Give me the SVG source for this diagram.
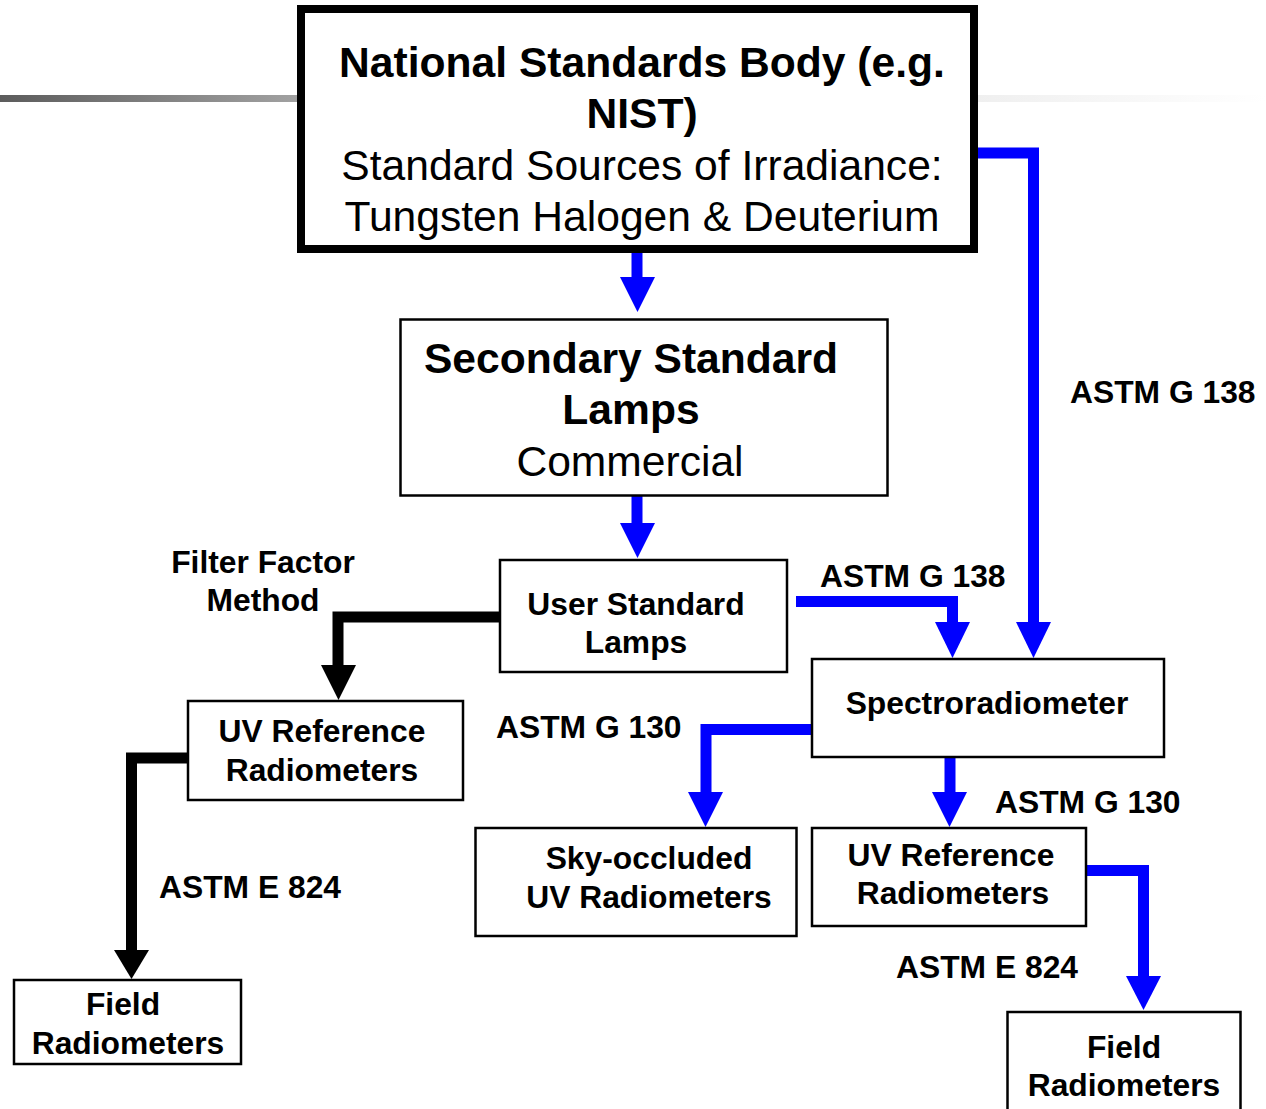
<svg xmlns="http://www.w3.org/2000/svg" width="1266" height="1109" viewBox="0 0 1266 1109">
<defs>
<linearGradient id="gl" x1="0" y1="0" x2="1" y2="0"><stop offset="0" stop-color="#5c5c5c"/><stop offset="1" stop-color="#a2a2a2"/></linearGradient>
<linearGradient id="gr" x1="0" y1="0" x2="1" y2="0"><stop offset="0" stop-color="#efefef"/><stop offset="1" stop-color="#ffffff"/></linearGradient>
<style>
.box{fill:#fff;stroke:#000;stroke-width:2.5}
.big{fill:#fff;stroke:#000;stroke-width:8}
.t{font-family:"Liberation Sans",Arial,sans-serif;fill:#000}
.b42{font-size:42.6px;font-weight:bold}
.r42{font-size:42.6px}
.b32{font-size:31.8px;font-weight:bold}
.mid{text-anchor:middle}
.bl{fill:none;stroke:#0000ff;stroke-width:11;stroke-linejoin:miter}
.bk{fill:none;stroke:#000;stroke-width:11;stroke-linejoin:miter}
.hb{fill:#0000ff}
.hk{fill:#000}
</style>
</defs>
<rect x="0" y="95" width="300" height="7" fill="url(#gl)"/>
<rect x="975" y="95" width="291" height="7" fill="url(#gr)"/>

<g id="connectors">
<polyline class="bl" points="637,250 637,278"/>
<polygon class="hb" points="620,277 655,277 637.5,312"/>
<polyline class="bl" points="637,495 637,524"/>
<polygon class="hb" points="620,523 655,523 637.5,558"/>
<polyline class="bl" points="974,153 1033.5,153 1033.5,624"/>
<polygon class="hb" points="1016,622 1051,622 1033.5,658"/>
<polyline class="bl" points="796,601.5 952.5,601.5 952.5,624"/>
<polygon class="hb" points="935,622 970,622 952.5,658"/>
<polyline class="bk" points="500,617 338,617 338,667"/>
<polygon class="hk" points="321,665 356,665 338.5,700"/>
<polyline class="bk" points="188,758 131.5,758 131.5,952"/>
<polygon class="hk" points="114,950 149,950 131.5,979"/>
<polyline class="bl" points="812,729.5 706,729.5 706,794"/>
<polygon class="hb" points="688,792 723,792 705.5,827"/>
<polyline class="bl" points="950,757 950,794"/>
<polygon class="hb" points="932,792 967,792 949.5,827"/>
<polyline class="bl" points="1086,870.5 1143.5,870.5 1143.5,978"/>
<polygon class="hb" points="1126,976 1161,976 1143.5,1010"/>
</g>

<g id="nist">
<rect class="big" x="301" y="9" width="673" height="240"/>
<text class="t b42 mid" x="642" y="77">National Standards Body (e.g.</text>
<text class="t b42 mid" x="642" y="128">NIST)</text>
<text class="t r42 mid" x="642" y="180">Standard Sources of Irradiance:</text>
<text class="t r42 mid" x="642" y="231">Tungsten Halogen &amp; Deuterium</text>
</g>

<g id="secondary">
<rect class="box" x="400.5" y="319.5" width="487" height="176"/>
<text class="t b42 mid" x="631" y="373">Secondary Standard</text>
<text class="t b42 mid" x="631" y="424">Lamps</text>
<text class="t r42 mid" x="630" y="476">Commercial</text>
</g>

<g id="user">
<rect class="box" x="500" y="560" width="287" height="112"/>
<text class="t b32 mid" x="636" y="615">User Standard</text>
<text class="t b32 mid" x="636" y="653">Lamps</text>
</g>

<g id="spectro">
<rect class="box" x="812" y="659" width="352" height="98"/>
<text class="t b32 mid" x="987" y="714">Spectroradiometer</text>
</g>

<g id="uvref-left">
<rect class="box" x="188" y="701" width="275" height="99"/>
<text class="t b32 mid" x="322" y="742">UV Reference</text>
<text class="t b32 mid" x="322" y="781">Radiometers</text>
</g>

<g id="sky">
<rect class="box" x="475.5" y="828" width="321" height="108"/>
<text class="t b32 mid" x="649" y="869">Sky-occluded</text>
<text class="t b32 mid" x="649" y="908">UV Radiometers</text>
</g>

<g id="uvref-right">
<rect class="box" x="812" y="828" width="274" height="98"/>
<text class="t b32 mid" x="951" y="866">UV Reference</text>
<text class="t b32 mid" x="953" y="904">Radiometers</text>
</g>

<g id="field-left">
<rect class="box" x="14" y="980" width="227" height="84"/>
<text class="t b32 mid" x="123" y="1015">Field</text>
<text class="t b32 mid" x="128" y="1054">Radiometers</text>
</g>

<g id="field-right">
<rect class="box" x="1007.5" y="1012" width="233" height="110"/>
<text class="t b32 mid" x="1124" y="1058">Field</text>
<text class="t b32 mid" x="1124" y="1096">Radiometers</text>
</g>

<g id="labels">
<text class="t b32 mid" x="263" y="573">Filter Factor</text>
<text class="t b32 mid" x="263" y="611">Method</text>
<text class="t b32" x="1070" y="403">ASTM G 138</text>
<text class="t b32" x="820" y="587">ASTM G 138</text>
<text class="t b32" x="496" y="738">ASTM G 130</text>
<text class="t b32" x="995" y="813">ASTM G 130</text>
<text class="t b32" x="159" y="898">ASTM E 824</text>
<text class="t b32" x="896" y="978">ASTM E 824</text>
</g>
</svg>
